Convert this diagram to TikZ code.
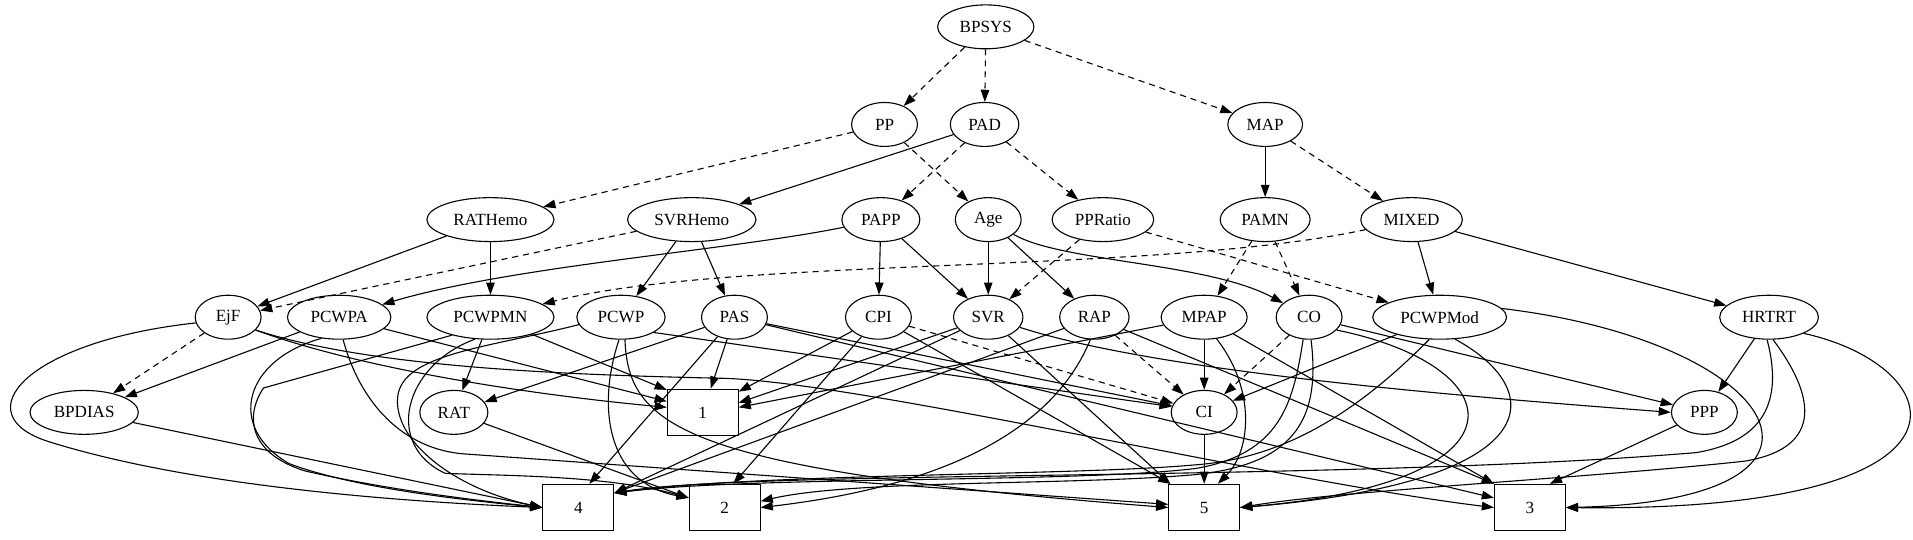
\documentclass[tikz,border=0pt]{standalone}
\usepackage{fontspec}
\setmainfont{Liberation Serif}
\usetikzlibrary{arrows.meta,shapes.geometric}

\newcommand\netfont{\fontsize{14}{16}\selectfont}
\tikzset{
  varnode/.style={draw, ellipse, line width=0.9pt, minimum width=54pt,
    minimum height=36pt, inner xsep=6.5pt, inner ysep=0pt, font=\netfont},
  valbox/.style={draw, rectangle, line width=0.9pt, minimum width=58pt,
    minimum height=38pt, font=\netfont},
  link/.style={line width=0.9pt, -{Triangle[length=10pt,width=7pt]}},
  dlink/.style={link, dash pattern=on 5pt off 4pt},
}

\begin{document}
\begin{tikzpicture}[x=1pt, y=-1pt]
  \fill[white] (0,0) rectangle (1568,442);
  \useasboundingbox (0,0) rectangle (1568,442);

  % variables
  \node[varnode] (BPSYS) at (808,22) {BPSYS};
  \node[varnode] (PP) at (725,102) {PP};
  \node[varnode] (PAD) at (807,102) {PAD};
  \node[varnode] (MAP) at (1037,102) {MAP};
  \node[varnode] (RATHemo) at (402,180) {RATHemo};
  \node[varnode] (SVRHemo) at (567,180) {SVRHemo};
  \node[varnode] (PAPP) at (722,180) {PAPP};
  \node[varnode] (Age) at (810,180) {Age};
  \node[varnode] (PPRatio) at (904,180) {PPRatio};
  \node[varnode] (PAMN) at (1037,180) {PAMN};
  \node[varnode] (MIXED) at (1157,180) {MIXED};
  \node[varnode] (EjF) at (187,260) {EjF};
  \node[varnode] (PCWPA) at (278,260) {PCWPA};
  \node[varnode] (PCWPMN) at (402,260) {PCWPMN};
  \node[varnode] (PCWP) at (509,260) {PCWP};
  \node[varnode] (PAS) at (602,260) {PAS};
  \node[varnode] (CPI) at (720,260) {CPI};
  \node[varnode] (SVR) at (810,260) {SVR};
  \node[varnode] (RAP) at (897,260) {RAP};
  \node[varnode] (MPAP) at (987,260) {MPAP};
  \node[varnode] (CO) at (1073,260) {CO};
  \node[varnode] (PCWPMod) at (1180,260) {PCWPMod};
  \node[varnode] (HRTRT) at (1450,260) {HRTRT};
  \node[varnode] (BPDIAS) at (69,338) {BPDIAS};
  \node[varnode] (RAT) at (372,338) {RAT};
  \node[varnode] (CI) at (987,338) {CI};
  \node[varnode] (PPP) at (1397,338) {PPP};

  % values
  \node[valbox] (n1) at (576,338) {1};
  \node[valbox] (n4) at (474,416) {4};
  \node[valbox] (n2) at (594,416) {2};
  \node[valbox] (n5) at (987,416) {5};
  \node[valbox] (n3) at (1254,416) {3};

  % upper rows
  \draw[dlink] (BPSYS) -- (PP);
  \draw[dlink] (BPSYS) -- (PAD);
  \draw[dlink] (BPSYS) -- (MAP);
  \draw[dlink] (PP) -- (RATHemo);
  \draw[dlink] (PP) -- (Age);
  \draw[link] (PAD) -- (SVRHemo);
  \draw[dlink] (PAD) -- (PAPP);
  \draw[dlink] (PAD) -- (PPRatio);
  \draw[link] (MAP) -- (PAMN);
  \draw[dlink] (MAP) -- (MIXED);
  \draw[link] (RATHemo) -- (EjF);
  \draw[link] (RATHemo) -- (PCWPMN);
  \draw[dlink] (SVRHemo) -- (EjF);
  \draw[link] (SVRHemo) -- (PCWP);
  \draw[link] (SVRHemo) -- (PAS);
  \draw[link] (PAPP) .. controls (600,205) and (420,218) .. (PCWPA);
  \draw[link] (PAPP) -- (CPI);
  \draw[link] (PAPP) -- (SVR);
  \draw[link] (Age) -- (SVR);
  \draw[link] (Age) -- (RAP);
  \draw[link] (Age) .. controls (870,215) and (990,215) .. (CO);
  \draw[dlink] (PPRatio) -- (SVR);
  \draw[dlink] (PPRatio) -- (PCWPMod);
  \draw[dlink] (PAMN) -- (MPAP);
  \draw[dlink] (PAMN) -- (CO);
  \draw[dlink] (MIXED) .. controls (950,225) and (600,210) .. (PCWPMN);
  \draw[link] (MIXED) -- (PCWPMod);
  \draw[link] (MIXED) -- (HRTRT);

  % fourth row
  \draw[dlink] (EjF) -- (BPDIAS);
  \draw[link] (EjF.190) .. controls (20,280) and (-30,340) .. (40,362)
     .. controls (145,395) and (300,410) .. (n4.west);
  \draw[link] (EjF.-25) .. controls (290,300) and (420,322) .. (n1.172);
  \draw[link] (EjF.-25) .. controls (300,300) and (450,307) .. (590,310)
     .. controls (700,312) and (1050,395) .. (n3.west);
  \draw[link] (PCWPA) -- (BPDIAS);
  \draw[link] (PCWPA.230) .. controls (200,295) and (185,350) .. (237,380)
     .. controls (290,400) and (380,410) .. (n4.west);
  \draw[link] (PCWPA) -- (n1.163);
  \draw[link] (PCWPA.280) .. controls (295,330) and (330,368) .. (380,372)
     -- (n5.175);
  \draw[link] (PCWPMN) -- (RAT);
  \draw[link] (PCWPMN.205) -- (216,318) .. controls (200,342) and (205,372) .. (250,386)
     .. controls (320,402) and (390,410) .. (n4.west);
  \draw[link] (PCWPMN) -- (n1.148);
  \draw[link] (PCWPMN.235) .. controls (330,300) and (315,365) .. (365,388)
     .. controls (420,390) and (500,390) .. (n2.165);
  \draw[link] (PCWP.190) .. controls (400,285) and (330,290) .. (326,325)
     .. controls (322,360) and (370,400) .. (n4.west);
  \draw[link] (PCWP.265) .. controls (490,330) and (495,395) .. (n2.165);
  \draw[link] (PCWP.280) .. controls (515,350) and (560,385) .. (n5.west);
  \draw[link] (PCWP.-25) -- (CI.170);
  \draw[link] (PAS) -- (RAT);
  \draw[link] (PAS) -- (n1);
  \draw[link] (PAS) -- (n4.65);
  \draw[link] (PAS) -- (CI);
  \draw[link] (PAS) -- (n3.165);
  \draw[link] (CPI) -- (n1.30);
  \draw[link] (CPI) -- (n2.70);
  \draw[dlink] (CPI) -- (CI);
  \draw[link] (CPI) -- (n5.145);
  \draw[link] (SVR) -- (n1.15);
  \draw[link] (SVR) -- (n4.22);
  \draw[link] (SVR) -- (n5.145);
  \draw[link] (SVR) .. controls (950,305) and (1200,325) .. (PPP.west);
  \draw[link] (RAP) -- (n4.22);
  \draw[link] (RAP.260) .. controls (860,360) and (760,400) .. (n2.east);
  \draw[dlink] (RAP) -- (CI);
  \draw[link] (RAP) -- (n3.north west);
  \draw[link] (MPAP) -- (n1.8);
  \draw[link] (MPAP) -- (CI);
  \draw[link] (MPAP.-60) .. controls (1030,320) and (1025,370) .. (n5.60);
  \draw[link] (MPAP) -- (n3.north west);
  \draw[dlink] (CO) -- (CI);
  \draw[link] (CO.255) .. controls (1060,330) and (1050,372) .. (980,384)
     .. controls (880,396) and (620,390) .. (n4.22);
  \draw[link] (CO.275) .. controls (1082,340) and (1065,380) .. (980,389)
     .. controls (880,398) and (700,393) .. (n2.10);
  \draw[link] (CO.-25) .. controls (1240,300) and (1260,395) .. (n5.east);
  \draw[link] (CO) -- (PPP);
  \draw[link] (PCWPMod) -- (CI);
  \draw[link] (PCWPMod.245) .. controls (1120,330) and (1060,375) .. (980,381)
     .. controls (880,390) and (620,388) .. (n4.22);
  \draw[link] (PCWPMod.-55) .. controls (1270,320) and (1270,395) .. (n5.east);
  \draw[link] (PCWPMod.8) .. controls (1460,280) and (1540,410) .. (n3.east);
  \draw[link] (HRTRT) -- (PPP);
  \draw[link] (HRTRT.265) .. controls (1462,330) and (1445,362) .. (1390,371)
     .. controls (1100,395) and (620,385) .. (n4.22);
  \draw[link] (HRTRT.280) .. controls (1492,330) and (1490,368) .. (1430,378)
     .. controls (1300,392) and (1100,402) .. (n5.east);
  \draw[link] (HRTRT.-25) .. controls (1600,300) and (1640,420) .. (n3.east);

  % lower rows
  \draw[link] (BPDIAS) -- (n4.west);
  \draw[link] (RAT) -- (n2.165);
  \draw[link] (CI) -- (n5);
  \draw[link] (PPP) -- (n3.50);
\end{tikzpicture}
\end{document}
